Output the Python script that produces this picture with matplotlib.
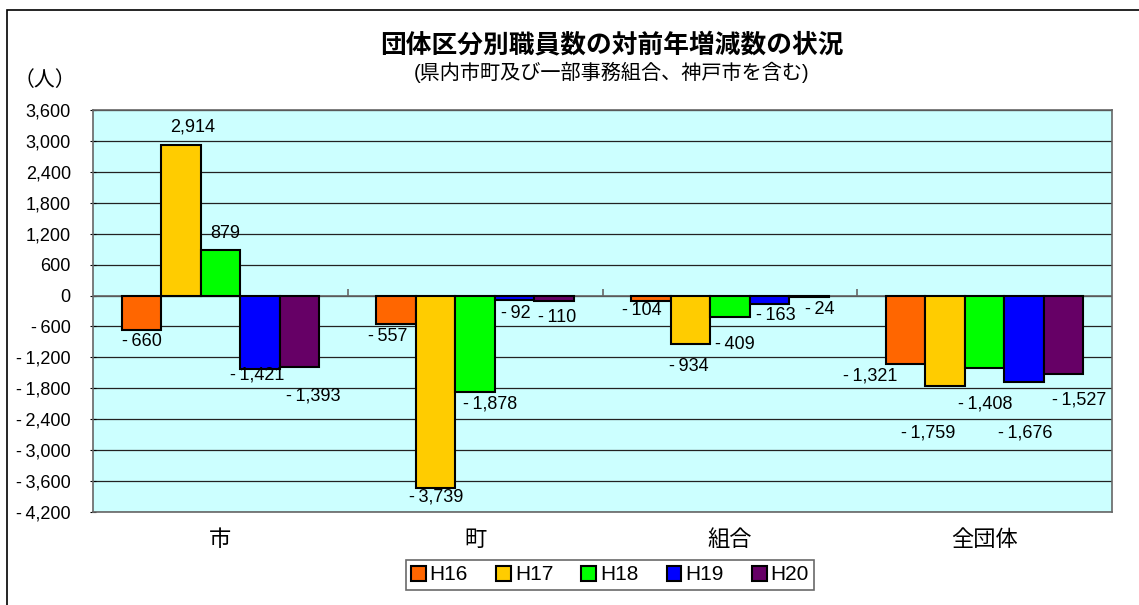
import matplotlib.pyplot as plt
import numpy as np
from matplotlib.patches import Rectangle

plt.rcParams['font.family'] = ['Liberation Sans', 'Noto Sans CJK JP', 'DejaVu Sans']

categories = ['市', '町', '組合', '全団体']
years = ['H16', 'H17', 'H18', 'H19', 'H20']
h16 = [-660, -557, -104, -1321]
h17 = [2914, -3739, -934, -1759]
h18 = [879, -1878, -409, -1408]
h19 = [-1421, -92, -163, -1676]
h20 = [-1393, -110, -24, -1527]
series = [h16, h17, h18, h19, h20]

colors = ['#FF6600', '#FFCC00', '#00FF00', '#0000FF', '#660066']

# label offsets in pixels (dx, dy) from the bar end, per series / category
offsets = [
    [(1, -12), (-8, -12), (-9, -10), (-35, -12)],
    [(12, 18), (1, -9), (-2, -23), (-17, -47)],
    [(5, 17), (15, -12), (5, -28), (1, -36)],
    [(-3, -6), (1, -13), (6, -12), (1, -51)],
    [(14, -29), (3, -16), (11, -13), (16, -26)],
]


def fmt(v):
    return f'{v:,}'.replace('-', '-\u2009')


fig = plt.figure(figsize=(11.39, 6.05), dpi=100)
fig.patches.append(Rectangle((7 / 1139, -0.1), 1.2, 1 - 10 / 605 + 0.1,
                             transform=fig.transFigure, fill=False,
                             edgecolor='black', linewidth=1.2))

ax = fig.add_axes([93 / 1139, 93 / 605, 1019 / 1139, 402 / 605])
ax.set_facecolor('#CCFFFF')

x = np.arange(len(categories))
w = 0.155
for i, (vals, c) in enumerate(zip(series, colors)):
    xs = x + (i - 2) * w
    ax.bar(xs, vals, width=w, color=c, edgecolor='black', linewidth=1.5,
           label=years[i], zorder=3)
    for j, v in enumerate(vals):
        dx, dy = offsets[i][j]
        ax.annotate(fmt(v), (xs[j], v), xytext=(dx, dy),
                    textcoords='offset pixels', ha='center', va='center',
                    fontsize=13, zorder=5)

ax.set_xlim(-0.5, 3.5)
ax.set_ylim(-4200, 3600)
ticks = np.arange(-4200, 3601, 600)
ax.set_yticks(ticks)
ax.set_yticklabels([fmt(t) for t in ticks], fontsize=13)
ax.yaxis.grid(True, color='#222222', linewidth=0.9, zorder=1)
ax.set_axisbelow(True)
ax.tick_params(axis='y', length=4, direction='inout', pad=14)
ax.set_xticks(x)
ax.set_xticklabels(categories, fontsize=16)
ax.tick_params(axis='x', length=0, pad=13)
for s in ax.spines.values():
    s.set_color('#666666')
    s.set_linewidth(1.2)

ax.axhline(0, color='#666666', linewidth=1.2, zorder=2)
ax.vlines([0.5, 1.5, 2.5], 0, 130, color='#666666', linewidth=1.2, zorder=2)

fig.text(612 / 1139, 1 - 45 / 605, '団体区分別職員数の対前年増減数の状況',
         ha='center', va='center', fontsize=18.5, fontweight='bold')
fig.text(612 / 1139, 1 - 72 / 605, '(県内市町及び一部事務組合、神戸市を含む)',
         ha='center', va='center', fontsize=14.5)
fig.text(45 / 1139, 1 - 80 / 605, '（人）', ha='center', va='center', fontsize=15)

leg = fig.legend(loc='center', bbox_to_anchor=(610 / 1139, 1 - 575 / 605),
                 ncol=5, fontsize=15, frameon=True, fancybox=False,
                 handlelength=0.7, handleheight=0.7, handletextpad=0.2,
                 columnspacing=1.35, borderpad=0.25)
leg.get_frame().set_edgecolor('#444444')
leg.get_frame().set_linewidth(1.2)

fig.savefig('out.png', dpi=100)
